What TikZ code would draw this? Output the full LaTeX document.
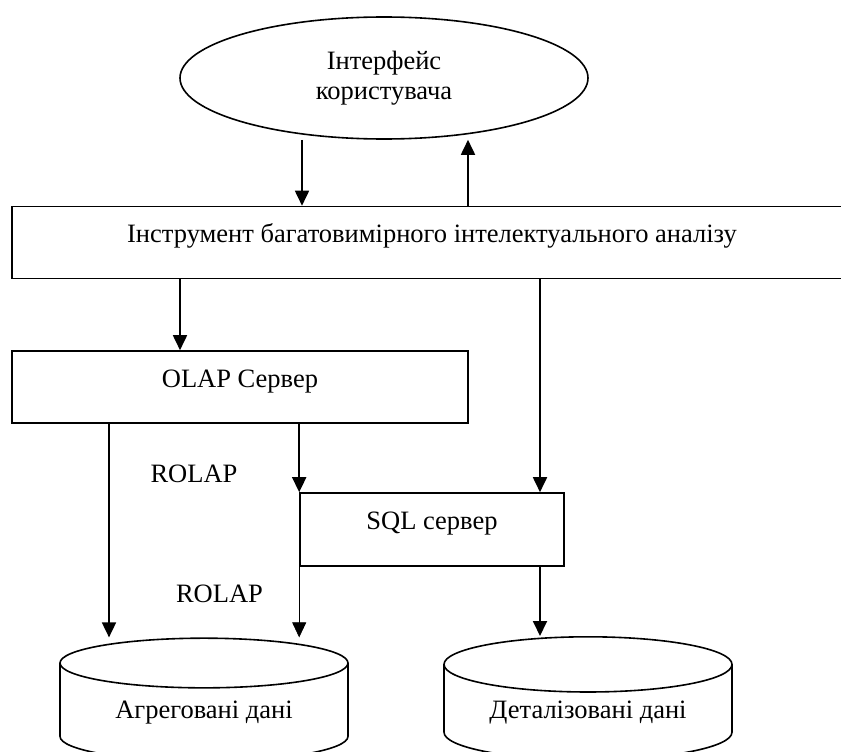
\documentclass[tikz,border=0pt]{standalone}
\usepackage{fontspec}
\setmainfont{Liberation Serif}
\usetikzlibrary{arrows.meta, shapes.geometric}

\begin{document}
\begin{tikzpicture}[
    x=1pt, y=-1pt,
    font=\fontsize{26.5}{30}\selectfont,
    box/.style={
        draw=black, line width=1.6pt, inner sep=0pt,
        minimum height=72pt, text height=16pt, text depth=16pt
    },
    store/.style={
        draw=black, line width=1.6pt, cylinder, shape border rotate=90,
        aspect=0.28, minimum width=288pt, minimum height=123pt,
        inner sep=0pt
    },
    flow/.style={
        -{Triangle[length=15pt, width=14pt]}, line width=1.8pt, black
    },
    thinflow/.style={
        -{Triangle[length=15pt, width=14pt]}, line width=0.7pt, black
    }
]
\useasboundingbox (0,0) rectangle (841,752);
\clip (0,0) rectangle (841,752);

\node[draw=black, line width=1.6pt, ellipse, inner sep=0pt,
      minimum width=408pt, minimum height=122pt, align=center]
    (ui) at (384,78) {Інтерфейс\\користувача};

\node[box, minimum width=840pt] (tool) at (432,242.5)
    {Інструмент багатовимірного інтелектуального аналізу};
\node[box, minimum width=456pt] (olap) at (240,387) {OLAP Сервер};
\node[box, minimum width=264pt, minimum height=73pt] (sql) at (432,529.5)
    {SQL сервер};

\node[store] (agg) at (204,712.5) {Агреговані дані};
\node[store] (det) at (588,712.5) {Деталізовані дані};

\node (rolapA) at (194,473.5) {ROLAP};
\node (rolapB) at (219.5,593.5) {ROLAP};

% x positions of the vertical links
\coordinate (ask) at (302,0);
\coordinate (reply) at (468,0);
\coordinate (toOlap) at (180,0);
\coordinate (toSql) at (540,0);
\coordinate (molap) at (109,0);

\draw[flow] (ui.south -| ask) -- (tool.north -| ask);
\draw[flow] (tool.north -| reply) -- (ui.south -| reply);
\draw[flow] (tool.south -| toOlap) -- (olap.north -| toOlap);
\draw[flow] (tool.south -| toSql) -- (sql.north -| toSql);
\draw[flow] (olap.south -| sql.north west) -- (sql.north west);
\draw[flow] (olap.south -| molap) -- (agg.north -| molap);
\draw[thinflow] (sql.south west) -- (agg.north -| sql.south west);
\draw[flow] (sql.south -| toSql) -- (det.north -| toSql);
\end{tikzpicture}
\end{document}
